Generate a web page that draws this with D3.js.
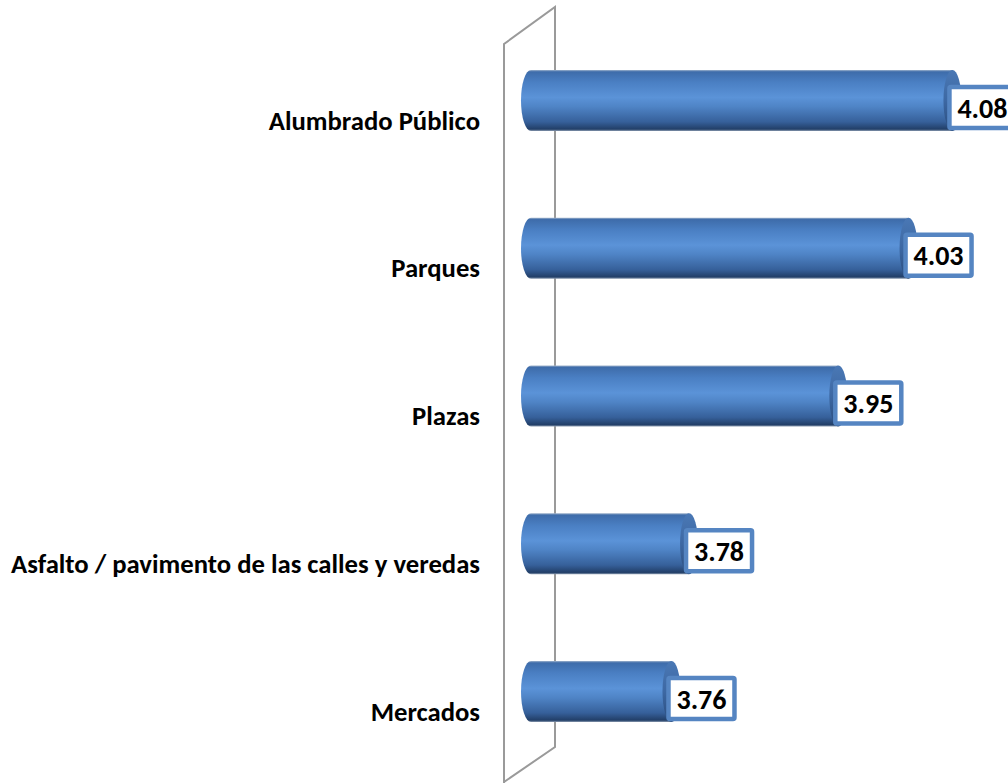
<!DOCTYPE html>
<html><head><meta charset="utf-8">
<script src="https://cdn.jsdelivr.net/npm/d3@7"></script>
<style>body{margin:0;background:#fff}svg{display:block}</style>
</head><body>
<script>
const categories = ["Alumbrado Público","Parques","Plazas","Asfalto / pavimento de las calles y veredas","Mercados"];
const values = [4.08,4.03,3.95,3.78,3.76];
const labels = ["4.08","4.03","3.95","3.78","3.76"];

const W=1008,H=783;
const svg=d3.select("body").append("svg").attr("width",W).attr("height",H);
const defs=svg.append("defs");
const g1=defs.append("linearGradient").attr("id","body").attr("x1",0).attr("y1",0).attr("x2",0).attr("y2",1);
[[0,"#9fb3cc"],[0.03,"#3e6caa"],[0.2,"#4a7fc3"],[0.45,"#5b93d8"],[0.6,"#4f84c6"],[0.85,"#36609a"],[0.97,"#223f68"],[1,"#8a9ab0"]]
 .forEach(([o,c])=>g1.append("stop").attr("offset",o).attr("stop-color",c));
const g2=defs.append("linearGradient").attr("id","cap").attr("x1",0).attr("y1",0).attr("x2",0).attr("y2",1);
[[0,"#4a78b5"],[0.5,"#3d68a3"],[1,"#2a4c7c"]].forEach(([o,c])=>g2.append("stop").attr("offset",o).attr("stop-color",c));

const x=d3.scaleLinear().domain([3.6,4.1]).range([531,970]);
const y=d3.scaleBand().domain(categories).range([26.6,765.4]).paddingInner(0.587).paddingOuter(0.2935);

// wall
svg.append("path").attr("d","M504,783 L504,44 L555,7 L555,747 L504,782")
  .attr("fill","none").attr("stroke","#9a9a9a").attr("stroke-width",2);

const rx=10;
const x0=x(3.6);
const gb=svg.selectAll("g.bar").data(categories).join("g").attr("class","bar");
gb.append("path").attr("d",(c,i)=>{
  const t=y(c),h=y.bandwidth(),x1=x(values[i]);
  return `M${x1},${t} L${x0},${t} A${rx},${h/2} 0 0 0 ${x0},${t+h} L${x1},${t+h} Z`;
}).attr("fill","url(#body)");
gb.append("ellipse").attr("cx",(c,i)=>x(values[i])).attr("cy",c=>y(c)+y.bandwidth()/2)
  .attr("rx",rx-1).attr("ry",y.bandwidth()/2).attr("fill","url(#cap)");

// labels boxes
const bw=70,bh=45;
gb.append("rect").attr("x",(c,i)=>x(values[i])-5+2).attr("y",c=>y(c)+y.bandwidth()/2+7-bh/2+2)
  .attr("width",bw-4).attr("height",bh-4).attr("fill","#fff").attr("stroke","#5585c2").attr("stroke-width",4.5).attr("rx",1.5);
gb.append("text").attr("x",(c,i)=>x(values[i])-5+bw/2).attr("y",c=>y(c)+y.bandwidth()/2+7)
  .attr("dy","0.36em").attr("text-anchor","middle")
  .attr("font-family","Carlito, Lato, 'Open Sans', sans-serif").attr("font-weight","bold").attr("font-size",28)
  .attr("fill","#000").text((c,i)=>labels[i]);

// category labels
svg.selectAll("text.cat").data(categories).join("text").attr("class","cat")
  .attr("x",480).attr("y",c=>y(c)+y.bandwidth()/2+20).attr("dy","0.34em").attr("text-anchor","end")
  .attr("font-family","Carlito, Lato, 'Open Sans', sans-serif").attr("font-weight","bold").attr("font-size",26.7)
  .attr("fill","#000").text(c=>c);
</script>
</body></html>
